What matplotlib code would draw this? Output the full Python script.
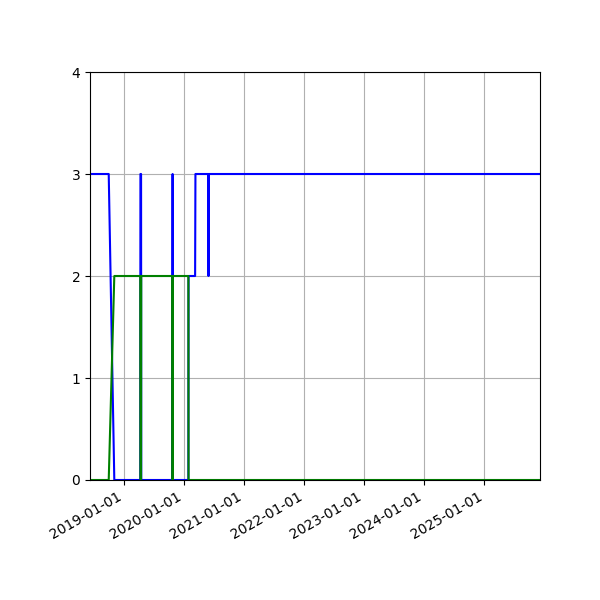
import matplotlib
matplotlib.use("Agg")
import matplotlib.pyplot as plt
import matplotlib.dates as mdates
import pandas as pd

blue_dates = ["2018-06-06 00:00", "2018-09-28 00:00", "2018-11-01 00:00", "2019-04-08 00:00", "2019-04-09 00:00",
              "2019-04-13 00:00", "2019-04-14 00:00", "2019-10-21 00:00", "2019-10-22 00:00", "2019-10-22 12:00",
              "2020-01-26 00:00", "2020-01-27 00:00", "2020-03-07 00:00", "2020-03-09 00:00", "2020-05-27 00:00",
              "2020-05-27 12:00", "2020-05-28 00:00", "2025-12-06 00:00"]
blue_values = [3, 3, 0, 0, 3, 3, 0, 0, 3, 0, 0, 2, 2, 3, 3, 2, 3, 3]

green_dates = ["2018-06-06 00:00", "2018-09-28 00:00", "2018-11-01 00:00", "2019-04-08 00:00", "2019-04-09 00:00",
               "2019-04-13 00:00", "2019-04-14 00:00", "2019-10-21 00:00", "2019-10-22 00:00", "2019-10-22 12:00",
               "2020-01-26 00:00", "2020-01-27 00:00", "2025-12-06 00:00"]
green_values = [0, 0, 2, 2, 0, 0, 2, 2, 0, 2, 2, 0, 0]

bd = pd.to_datetime(blue_dates, format="%Y-%m-%d %H:%M")
gd = pd.to_datetime(green_dates, format="%Y-%m-%d %H:%M")

fig = plt.figure(figsize=(6, 6), dpi=100)
ax = fig.add_subplot(111)
ax.plot(bd, blue_values, color="blue")
ax.plot(gd, green_values, color="green")
ax.set_ylim(0, 4)
ax.set_yticks([0, 1, 2, 3, 4])
ax.set_xlim(min(bd[0], gd[0]), max(bd[-1], gd[-1]))
ax.xaxis.set_major_locator(mdates.YearLocator())
ax.xaxis.set_major_formatter(mdates.DateFormatter("%Y-%m-%d"))
ax.grid(True)
fig.autofmt_xdate()
fig.subplots_adjust(left=0.15, right=0.9, top=0.88, bottom=0.2)
fig.savefig("out.png", dpi=100)
